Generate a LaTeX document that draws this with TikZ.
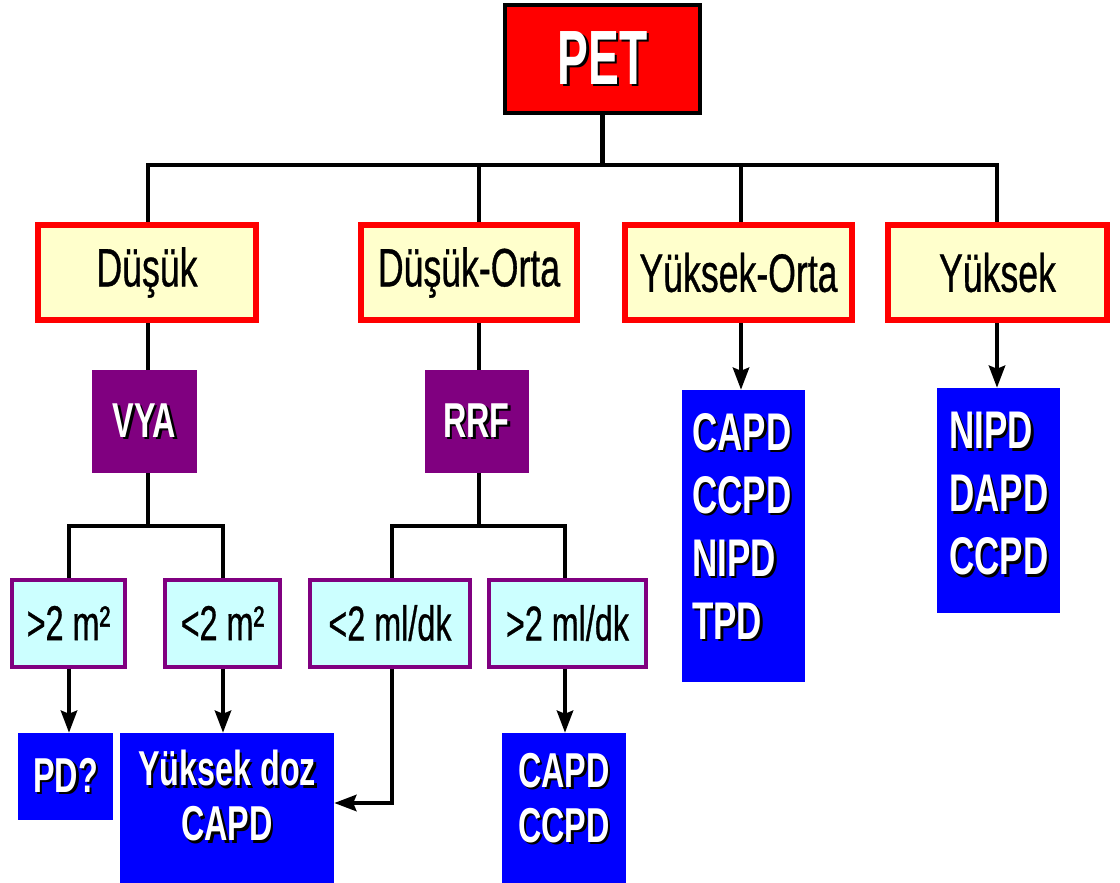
\documentclass[tikz,border=0pt]{standalone}
\usepackage{fontspec}
\setmainfont{Liberation Sans}[FakeStretch=0.66]
\newfontfamily\petfont{Liberation Sans}[FakeStretch=0.6]
\newfontfamily\regfont{Liberation Sans}[FakeStretch=0.66,FakeBold=0.6]
\usetikzlibrary{arrows.meta}
\definecolor{catyellow}{HTML}{FFFFCC}
\definecolor{cyanfill}{HTML}{CCFFFF}
\definecolor{purp}{HTML}{800080}
\definecolor{pureblue}{HTML}{0000FF}
\newcommand{\shd}[1]{\makebox[0pt][l]{\kern2.5pt\raisebox{-2.5pt}{\textcolor{black}{#1}}}\textcolor{white}{#1}}
\tikzset{
  petbox/.style={draw=black, line width=4pt, fill=red, minimum width=195pt, minimum height=108pt, inner sep=0pt,
    font=\petfont\bfseries\fontsize{77}{80}\selectfont},
  catbox/.style={draw=red, line width=6pt, fill=catyellow, minimum height=95pt, inner sep=0pt,
    font=\regfont\fontsize{54}{60}\selectfont},
  purpbox/.style={fill=purp, minimum width=105pt, minimum height=103pt, inner sep=0pt,
    font=\bfseries\fontsize{49}{55}\selectfont},
  cyanbox/.style={draw=purp, line width=4pt, fill=cyanfill, minimum height=87pt, inner sep=0pt,
    font=\regfont\fontsize{49}{55}\selectfont},
  bluebox/.style={fill=pureblue, inner sep=0pt},
  bluetxt/.style={inner sep=0pt, font=\bfseries\fontsize{49}{55}\selectfont},
  bigtxt/.style={inner sep=0pt, align=left, font=\bfseries\fontsize{53}{63}\selectfont},
  conn/.style={line width=4.5pt, line join=miter},
  arr/.style={conn, -{Stealth[length=22pt,width=16pt,inset=3pt]}}
}
\begin{document}
\begin{tikzpicture}[x=1pt,y=-1pt]
\useasboundingbox (0,0) rectangle (1120,883);
% nodes
\node[petbox] (pet) at (602.5,59) {\shd{PET}};
\node[catbox, minimum width=218pt] (c1) at (147,272.5) {Düşük};
\node[catbox, minimum width=216pt] (c2) at (469,272.5) {Düşük-Orta};
\node[catbox, minimum width=227pt] (c3) at (738.5,272.5) {Yüksek-Orta};
\node[catbox, minimum width=219pt] (c4) at (997.5,272.5) {Yüksek};
\node[purpbox] (vya) at (144.5,421.5) {\shd{VYA}};
\node[purpbox, minimum width=104pt] (rrf) at (476.5,421.5) {\shd{RRF}};
\node[cyanbox, minimum width=113pt] (a1) at (68.5,623) {>2 m²};
\node[cyanbox, minimum width=115pt] (a2) at (222.5,623) {<2 m²};
\node[cyanbox, minimum width=160pt] (a3) at (390,623) {<2 ml/dk};
\node[cyanbox, minimum width=157pt] (a4) at (567.5,623) {>2 ml/dk};
\node[bluebox, minimum width=95pt, minimum height=87pt, bluetxt] (b1) at (65.5,776.5) {\shd{PD?}};
\node[bluebox, minimum width=214pt, minimum height=150pt] (b2) at (227,808) {};
\node[bluebox, minimum width=124pt, minimum height=150pt] (b3) at (564,808) {};
\node[bluebox, minimum width=123pt, minimum height=292pt] (b4) at (743.5,536) {};
\node[bluebox, minimum width=123pt, minimum height=225pt] (b5) at (998.5,500.5) {};
\node[bluetxt, align=center, anchor=north] (b2t) at (227,750) {\shd{Yüksek doz}\\\shd{CAPD}};
\node[bluetxt, align=center, anchor=north] (b3t) at (564,753) {\shd{CAPD}\\\shd{CCPD}};
\node[bigtxt, anchor=north west] (b4t) at (692,413) {\shd{CAPD}\\\shd{CCPD}\\\shd{NIPD}\\\shd{TPD}};
\node[bigtxt, anchor=north west] (b5t) at (949,412) {\shd{NIPD}\\\shd{DAPD}\\\shd{CCPD}};
% junction coordinates
\coordinate (j1) at (148,165);
\coordinate (j2) at (479,165);
\coordinate (j3) at (741,165);
\coordinate (j4) at (997,165);
\coordinate (k1) at (69,526);
\coordinate (k2) at (223,526);
\coordinate (k3) at (392,526);
\coordinate (k4) at (565,526);
\coordinate (m) at (392,803);
% connectors
\draw[conn] (pet.south) -- (pet.south |- j1);
\draw[conn] (j1 |- c1.north) -- (j1) -- (j4) -- (j4 |- c4.north);
\draw[conn] (j2) -- (j2 |- c2.north);
\draw[conn] (j3) -- (j3 |- c3.north);
\draw[conn] (j1 |- c1.south) -- (j1 |- vya.north);
\draw[conn] (j2 |- c2.south) -- (j2 |- rrf.north);
\draw[conn] (j1 |- vya.south) -- (j1 |- k1);
\draw[conn] (k1 |- a1.north) -- (k1) -- (k2) -- (k2 |- a2.north);
\draw[conn] (j2 |- rrf.south) -- (j2 |- k3);
\draw[conn] (k3 |- a3.north) -- (k3) -- (k4) -- (k4 |- a4.north);
\draw[arr] (k1 |- a1.south) -- (k1 |- b1.north);
\draw[arr] (k2 |- a2.south) -- (k2 |- b2.north);
\draw[arr] (k3 |- a3.south) -- (m) -- (b2.east |- m);
\draw[arr] (k4 |- a4.south) -- (k4 |- b3.north);
\draw[arr] (j3 |- c3.south) -- (j3 |- b4.north);
\draw[arr] (j4 |- c4.south) -- (j4 |- b5.north);
\end{tikzpicture}
\end{document}
